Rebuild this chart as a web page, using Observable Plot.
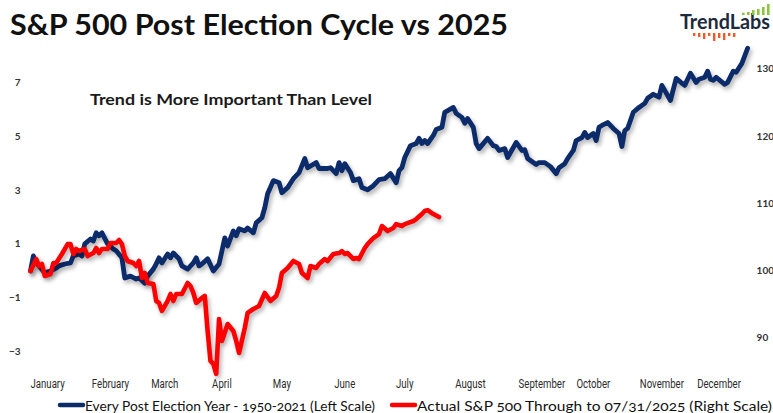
<!DOCTYPE html>
<html><head><meta charset="utf-8">
<script src="https://cdn.jsdelivr.net/npm/d3@7"></script>
<script src="https://cdn.jsdelivr.net/npm/@observablehq/plot@0.6"></script>
<style>
html,body{margin:0;padding:0;background:#fff;}
#wrap{position:relative;width:773px;height:413px;overflow:hidden;background:#fff;}
#chart{position:absolute;left:0;top:0;}
#overlay{position:absolute;left:0;top:0;pointer-events:none;}
</style></head><body>
<div id="wrap"><div id="chart"></div><svg id="overlay" width="773" height="413"></svg></div>
<script>
// ---- data ----
const monthLabels = ["January","February","March","April","May","June","July","August","September","October","November","December"];
const monthDays = [6,28,47,67,88,110,131,154,179,197,221,241];
const leftTicks = [-3,-1,1,3,5,7];
const rightTicks = [90,100,110,120,130];

const blueDays = [0,1,2,3,5,7,9,10,12,14,15,17,18,19,21,22,23,24,25,27,29,30,32,33,35,37,38,40,41,43,44,45,46,48,49,50,52,53,55,57,58,59,60,62,64,66,68,69,71,72,73,75,76,78,79,81,82,83,85,87,88,90,92,94,96,97,100,101,104,105,107,108,109,110,112,113,115,116,118,120,122,124,126,128,129,130,131,133,135,136,137,138,139,141,142,144,145,148,149,151,152,153,155,156,157,160,162,163,164,166,167,169,170,172,173,174,177,178,180,182,184,185,187,188,190,191,193,194,195,197,198,199,200,202,204,206,207,208,209,211,213,215,216,218,220,221,224,226,228,229,231,233,234,236,237,238,239,240,243,244,246,247,249,251];
const blueValues = [0,0.56,0.30,0.19,-0.07,0.00,0.11,0.19,0.26,0.30,0.56,0.63,0.56,1.01,1.19,1.12,1.42,1.31,1.42,1.01,0.82,0.75,0.49,-0.26,-0.19,-0.30,-0.26,-0.45,-0.19,0.07,0.26,0.49,0.30,0.63,0.49,0.67,0.45,0.19,0.07,0.30,0.49,0.19,0.26,0.45,0.00,0.26,1.23,0.93,1.49,1.31,1.57,1.49,1.60,1.42,1.79,1.98,2.35,2.87,3.36,3.28,2.91,3.10,3.43,3.66,4.18,3.84,4.03,3.81,3.81,3.84,3.62,4.03,3.73,3.99,3.66,3.36,3.43,3.10,3.02,3.17,3.40,3.43,3.62,3.28,3.73,3.84,4.22,4.66,4.74,4.93,4.74,4.85,4.74,5.04,5.26,5.34,5.90,6.08,5.86,5.71,5.49,5.67,5.34,4.74,4.55,4.93,4.66,4.63,4.48,4.55,4.22,4.59,4.78,4.48,4.51,4.18,3.96,4.03,4.03,3.88,3.62,3.84,3.99,4.18,4.48,4.85,4.96,5.15,4.96,5.11,4.85,5.34,5.41,5.52,5.30,5.11,4.63,5.22,5.30,5.90,6.08,6.23,6.42,6.57,6.46,6.90,6.34,7.16,6.98,6.90,7.35,7.01,7.13,7.20,7.43,7.13,7.09,7.20,6.94,7.01,7.43,7.39,7.72,8.28];

const redDays = [0,2,3,4,5,7,8,9,11,13,14,15,16,17,19,20,22,23,24,25,27,28,30,31,32,33,34,36,37,38,39,40,41,43,44,45,46,48,49,50,51,53,55,56,57,58,60,61,62,63,64,65,66,67,69,71,72,73,75,76,78,80,82,84,86,87,88,90,92,94,95,97,98,100,101,103,104,106,108,109,110,111,113,114,115,117,118,120,122,123,125,127,128,130,131,132,134,135,137,138,139,141,143];
const redValues = [100,101.78,100.74,101.04,99.26,99.55,101.19,101.19,102.53,104.01,104.01,102.53,103.27,102.97,103.27,102.23,102.67,103.42,102.67,103.27,103.27,104.16,104.16,104.61,104.01,102.23,101.49,101.19,100.74,101.49,98.96,99.70,98.22,98.07,95.54,95.25,94.06,95.54,96.58,95.54,96.58,96.58,98.22,97.77,96.73,95.25,95.99,96.29,91.08,86.63,86.18,84.70,92.87,89.60,92.12,91.08,89.60,87.82,91.53,93.76,94.35,94.80,96.73,95.54,96.29,97.5,99.70,100.45,101.49,101.04,99.70,98.96,100.74,100.45,101.04,101.78,101.49,102.53,102.67,102.97,102.53,102.67,101.78,101.93,101.78,103.42,104.01,104.90,105.50,106.69,105.94,106.39,106.98,106.69,106.98,107.13,107.43,107.73,108.47,108.92,109.06,108.47,108.02];

// ---- build ----
const BLUE = "#0c2b6a", RED = "#ff0000";
const toLeft = r => (r - 100) / 4; // right scale = 100 + 4 * left scale
const blue = blueDays.map((d, i) => ({d, v: blueValues[i]}));
const red = redDays.map((d, i) => ({d, v: toLeft(redValues[i])}));

const plot = Plot.plot({
  width: 773, height: 413,
  marginLeft: 30, marginRight: 25.9, marginTop: 41.85, marginBottom: 34.9,
  x: {domain: [0, 251]},
  y: {domain: [-4, 8.5]},
  style: {background: "transparent", fontFamily: "Lato, sans-serif", overflow: "visible"},
  marks: [
    Plot.axisY({ticks: leftTicks, anchor: "left", tickSize: 0, tickPadding: 10, fontSize: 10, fontWeight: "bold", fill: "#333", label: null}),
    Plot.axisY({ticks: rightTicks.map(toLeft), anchor: "right", tickSize: 0, tickPadding: 9, tickFormat: t => String(Math.round(100 + 4 * t)), fontSize: 10, fontWeight: "bold", fill: "#333", label: null}),
    Plot.axisX({ticks: monthDays, anchor: "bottom", tickSize: 0, tickPadding: 1, tickFormat: d => monthLabels[monthDays.indexOf(d)], fontFamily: "Roboto, sans-serif", fontSize: 12, fill: "#2a2a2a", label: null}),
    Plot.line(blue, {x: "d", y: "v", stroke: BLUE, strokeWidth: 4.8, strokeLinejoin: "round", strokeLinecap: "round"}),
    Plot.line(red, {x: "d", y: "v", stroke: RED, strokeWidth: 4.6, strokeLinejoin: "round", strokeLinecap: "round"})
  ]
});
d3.select(plot).selectAll("g[aria-label=line] path").style("filter", "drop-shadow(2px 3px 2px rgba(0,0,0,0.3))");
document.getElementById("chart").appendChild(plot);

// condense the month labels (narrow typeface look)
d3.select(plot).selectAll("g[aria-label='x-axis tick label'] text").each(function() {
  const w = this.getComputedTextLength();
  this.setAttribute("textLength", (w * 0.8).toFixed(1));
  this.setAttribute("lengthAdjust", "spacingAndGlyphs");
});

// ---- title, annotation, legend, logo ----
const ov = d3.select("#overlay");
ov.append("text").attr("x", 10).attr("y", 35).attr("font-family", "Lato, sans-serif").attr("font-weight", 700)
  .attr("font-size", 29).attr("fill", "#111").attr("textLength", 498).attr("lengthAdjust", "spacingAndGlyphs")
  .text("S&P 500 Post Election Cycle vs 2025");
ov.append("text").attr("x", 90).attr("y", 105).attr("font-family", "Lato, sans-serif").attr("font-weight", 700)
  .attr("font-size", 16).attr("fill", "#1a1a1a").attr("textLength", 282).attr("lengthAdjust", "spacingAndGlyphs")
  .text("Trend is More Important Than Level");

const legend = [
  {label: "Every Post Election Year - 1950-2021 (Left Scale)", color: BLUE, x0: 60, x1: 83, tx: 85, tl: 290},
  {label: "Actual S&P 500 Through to 07/31/2025 (Right Scale)", color: RED, x0: 392, x1: 415, tx: 417, tl: 355}
];
legend.forEach(l => {
  ov.append("line").attr("x1", l.x0).attr("x2", l.x1).attr("y1", 405).attr("y2", 405)
    .attr("stroke", l.color).attr("stroke-width", 4.5).attr("stroke-linecap", "round");
  ov.append("text").attr("x", l.tx).attr("y", 410.5).attr("font-family", "Lato, sans-serif").attr("font-size", 13.5)
    .attr("fill", "#111").attr("textLength", l.tl).attr("lengthAdjust", "spacingAndGlyphs")
    .style("font-variant-numeric", "oldstyle-nums").text(l.label);
});

// logo
const logo = ov.append("g");
logo.append("text").attr("x", 680).attr("y", 29).attr("font-family", "Lato, sans-serif").attr("font-weight", 700)
  .attr("font-size", 20).attr("fill", "#1d2a3d").attr("textLength", 90).attr("lengthAdjust", "spacingAndGlyphs").text("TrendLabs");
[2.3, 3, 5, 6, 8, 11].forEach((h, i) => {
  logo.append("rect").attr("x", 742 + i * 5).attr("y", 15 - h).attr("width", 2.6).attr("height", h).attr("fill", "#8cc63e");
});
[3, 4, 6, 3, 8, 5, 7, 3, 4].forEach((h, i) => {
  logo.append("rect").attr("x", 693 + i * 5).attr("y", 33).attr("width", 2.4).attr("height", h).attr("fill", "#f05a28");
});
</script>
</body></html>
